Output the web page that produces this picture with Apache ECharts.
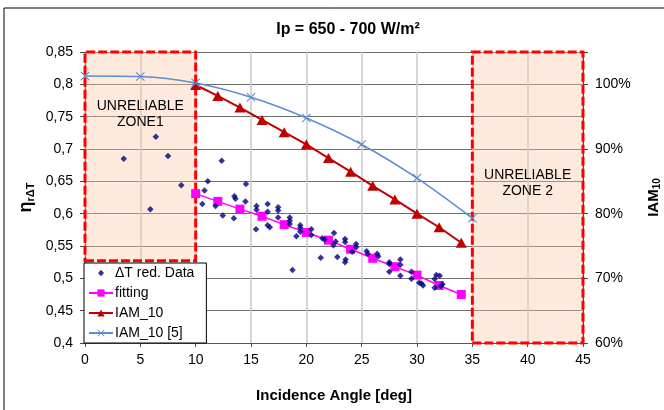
<!DOCTYPE html>
<html>
<head>
<meta charset="utf-8">
<script src="https://cdn.jsdelivr.net/npm/echarts@6/dist/echarts.min.js"></script>
<style>html,body{margin:0;padding:0;background:#fff}#c{width:664px;height:410px}</style>
</head>
<body>
<div id="c"></div>
<script>
// ---- data ----
const measAngles = [3.5,5.9,6.4,7.5,8.7,
  10.6,10.8,11.1,11.8,12.35,12.45,13.5,13.6,13.45,14.55,14.5,
  15.5,15.5,15.45,16.5,16.5,16.5,16.7,17.45,17.45,17.45,18.5,18.5,18.5,18.75,19.45,19.45,19.45,19.1,
  20.45,20.45,21.45,21.65,21.3,22.5,22.65,22.45,22.8,23.5,23.5,23.55,23.5,24.5,24.5,24.15,
  25.45,25.55,26.4,26.5,27.5,27.5,27.5,28.5,28.5,28.5,29.5,29.5,30.2,30.4,30.55,
  31.75,32.05,31.6,31.6,32.3,32.15];
const measValues = [0.685,0.607,0.719,0.689,0.644,
  0.615,0.636,0.650,0.612,0.682,0.597,0.627,0.623,0.593,0.646,0.619,
  0.612,0.606,0.576,0.615,0.603,0.582,0.579,0.610,0.605,0.594,0.594,0.589,0.584,0.513,0.582,0.578,0.572,0.565,
  0.576,0.567,0.562,0.560,0.532,0.570,0.557,0.551,0.533,0.561,0.556,0.529,0.525,0.553,0.548,0.541,
  0.542,0.538,0.538,0.534,0.525,0.522,0.510,0.529,0.521,0.504,0.510,0.4995,0.493,0.492,0.489,
  0.505,0.504,0.499,0.4855,0.491,0.488];
const fitAngles = [10,12,14,16,18,20,22,24,26,28,30,32,34];
const fitValues = [0.631,0.619,0.607,0.596,0.583,0.571,0.559,0.545,0.531,0.518,0.505,0.489,0.475];
const iamAngles = [10,12,14,16,18,20,22,24,26,28,30,32,34];
const iamValues = [99.9,98.2,96.4,94.5,92.6,90.7,88.6,86.5,84.3,82.2,80.0,77.9,75.5];
const iam5Angles = [0,5,10,15,20,25,30,35];
const iam5Values = [101.3,101.2,100.2,98.0,94.8,90.7,85.5,79.3];
const seriesNames = ['ΔT red. Data','fitting','IAM_10','IAM_10 [5]'];
const zone1 = {x:[0,10], y:[0.527,0.85], label:'UNRELIABLE\nZONE1'};
const zone2 = {x:[35,45], y:[0.4,0.85], label:'UNRELIABLE\nZONE 2'};
const xRange = [0,45,5];
const leftRange = [0.4,0.85,0.05];
const rightRange = [60,105,10];

const FONT = '"Liberation Sans", Arial, sans-serif';
const zip = (a,b) => a.map((v,i)=>[v,b[i]]);
const crossPath = 'path://M0,0.85L0.85,0L10,9.15L9.15,10Z M9.15,0L10,0.85L0.85,10L0,9.15Z';
// small diamond centred in a 24x9 legend box (corner points only extend the bounds)
const legendDiamond = 'path://M0,0L0.01,0Z M24,9L23.99,9Z M12,1.2L15,4.5L12,7.8L9,4.5Z';

const chart = echarts.init(document.getElementById('c'), null, {renderer:'canvas'});
chart.setOption({
  animation:false,
  textStyle:{fontFamily:FONT},
  title:{
    text:'Ip = 650 - 700 W/m²', left:343, top:17, textAlign:'center',
    textStyle:{fontFamily:FONT, fontSize:16, fontWeight:'bold', color:'#000'}
  },
  graphic:[{type:'rect', shape:{x:4,y:8,width:700,height:450}, style:{fill:'none', stroke:'#000', lineWidth:1}, z:-1}],
  grid:{left:85, right:81, top:52, bottom:67, containLabel:false, outerBoundsMode:'none'},
  legend:{
    orient:'vertical', left:84, top:263,
    backgroundColor:'#fff', borderColor:'#000', borderWidth:1,
    padding:[3,12,3,4], itemGap:6, itemWidth:24, itemHeight:9,
    data:[{name:seriesNames[0], icon:legendDiamond}, seriesNames[1], seriesNames[2], seriesNames[3]],
    textStyle:{fontFamily:FONT, fontSize:14, color:'#000', padding:[0,0,0,-3]}
  },
  xAxis:{
    type:'value', min:xRange[0], max:xRange[1], interval:xRange[2],
    name:'Incidence Angle [deg]', nameLocation:'middle', nameGap:45, nameMoveOverlap:false,
    nameTextStyle:{fontFamily:FONT, fontSize:15, fontWeight:'bold', color:'#000'},
    axisLine:{lineStyle:{color:'#555', width:1}},
    axisTick:{show:true, inside:false, length:4, lineStyle:{color:'#555'}},
    axisLabel:{fontFamily:FONT, fontSize:14, color:'#000', margin:10},
    splitLine:{show:true, lineStyle:{color:'#c8c8c8', width:1.5}}
  },
  yAxis:[{
    type:'value', min:leftRange[0], max:leftRange[1], interval:leftRange[2],
    name:'{a|η}{b|rΔT}', nameLocation:'middle', nameRotate:90, nameGap:49, nameMoveOverlap:false,
    nameTextStyle:{rich:{
      a:{fontFamily:FONT, fontSize:18, fontWeight:'bold', color:'#000'},
      b:{fontFamily:FONT, fontSize:11, fontWeight:'bold', color:'#000', verticalAlign:'bottom', padding:[8,0,0,0]}
    }},
    axisLine:{show:true, lineStyle:{color:'#444', width:1}},
    axisTick:{show:true, length:5, lineStyle:{color:'#444'}},
    axisLabel:{fontFamily:FONT, fontSize:14, color:'#000', margin:12,
      formatter:v=>String(+(+v).toFixed(2)).replace('.',',')},
    splitLine:{show:true, lineStyle:{color:'#6e6e6e', width:1}}
  },{
    type:'value', min:rightRange[0], max:rightRange[1], interval:rightRange[2], position:'right',
    name:'{a|IAM}{b|10}', nameLocation:'middle', nameRotate:90, nameGap:62, nameMoveOverlap:false,
    nameTextStyle:{rich:{
      a:{fontFamily:FONT, fontSize:15, fontWeight:'bold', color:'#000'},
      b:{fontFamily:FONT, fontSize:10, fontWeight:'bold', color:'#000', verticalAlign:'bottom', padding:[7,0,0,0]}
    }},
    axisLine:{show:true, lineStyle:{color:'#444', width:1}},
    axisTick:{show:true, length:5, lineStyle:{color:'#444'}},
    axisLabel:{fontFamily:FONT, fontSize:14, color:'#000', margin:12,
      formatter:v=> v>100.5 ? '' : Math.round(v)+'%'},
    splitLine:{show:false}
  }],
  series:[
    {
      name:seriesNames[0], type:'scatter', yAxisIndex:0,
      data:zip(measAngles, measValues),
      symbol:'diamond', symbolSize:6.5,
      itemStyle:{color:'#000080'}, z:5,
      markArea:{
        silent:true,
        itemStyle:{color:'rgba(250,200,165,0.38)', borderColor:'#ff0000', borderWidth:3, borderType:[9,3]},
        label:{show:true, fontFamily:FONT, fontSize:14, color:'#000', lineHeight:16, align:'center', verticalAlign:'middle'},
        data:[
          [{xAxis:zone1.x[0], yAxis:zone1.y[0], label:{position:['50%','30%'], formatter:zone1.label}},
           {xAxis:zone1.x[1], yAxis:zone1.y[1]}],
          [{xAxis:zone2.x[0], yAxis:zone2.y[0], label:{position:['50%','45%'], formatter:zone2.label}},
           {xAxis:zone2.x[1], yAxis:zone2.y[1]}]
        ]
      }
    },
    {
      name:seriesNames[1], type:'line', yAxisIndex:0,
      data:zip(fitAngles, fitValues),
      symbol:'rect', symbolSize:9,
      lineStyle:{color:'#ff00ff', width:1.5}, itemStyle:{color:'#ff00ff'}, z:4
    },
    {
      name:seriesNames[2], type:'line', yAxisIndex:1,
      data:zip(iamAngles, iamValues),
      symbol:'triangle', symbolSize:[11,10],
      lineStyle:{color:'#c00000', width:2}, itemStyle:{color:'#c00000'}, z:4
    },
    {
      name:seriesNames[3], type:'line', yAxisIndex:1,
      data:zip(iam5Angles, iam5Values),
      smooth:0.35, symbol:crossPath, symbolSize:9,
      lineStyle:{color:'#5b8dd0', width:1.5}, itemStyle:{color:'#5b8dd0'}, z:4
    }
  ]
});
</script>
</body>
</html>
